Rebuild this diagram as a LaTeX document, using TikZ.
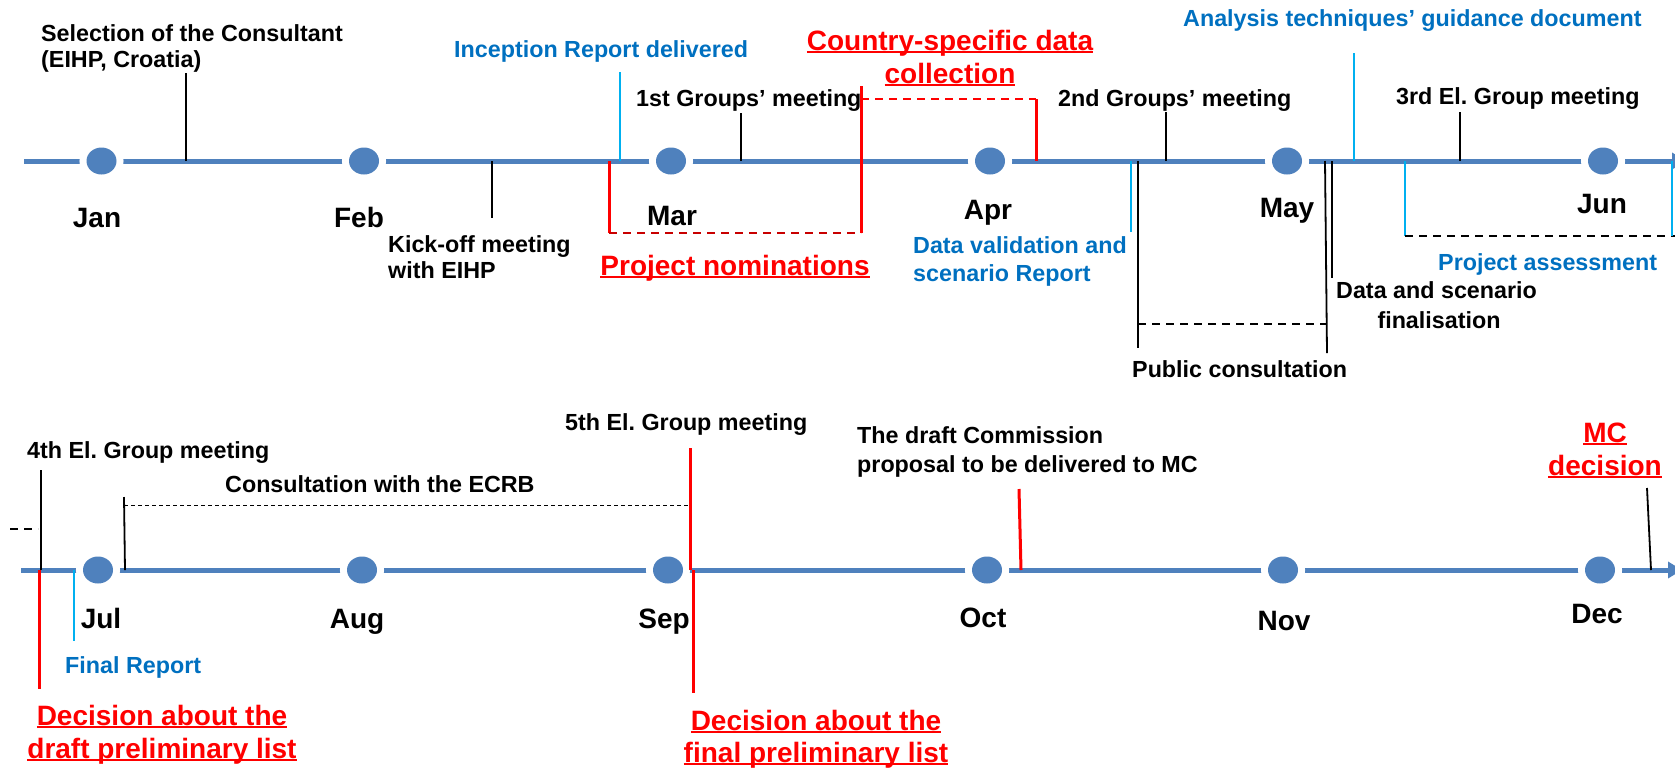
\documentclass[tikz,border=0pt]{standalone}
\usepackage{fontspec}
\setmainfont{Liberation Sans}
\usetikzlibrary{arrows.meta,shapes.geometric}
\definecolor{tlblue}{RGB}{79,129,189}
\definecolor{lblue}{RGB}{0,176,240}
\definecolor{tblue}{RGB}{0,112,192}
\definecolor{dred}{RGB}{200,0,0}
\newcommand\myul[1]{\leavevmode\setbox0\hbox{#1}\rlap{\rule[-3pt]{\wd0}{2pt}}\box0}
\frenchspacing
\begin{document}
\begin{tikzpicture}[x=1pt,y=-1pt,
  tl/.style={draw=tlblue,line width=5pt},
  dot/.style={ellipse,minimum width=30pt,minimum height=27pt,inner sep=0pt,fill=tlblue,preaction={draw=white,line width=14pt}},
  mon/.style={font=\fontsize{28}{32}\selectfont\bfseries,anchor=base,inner sep=0pt},
  ann/.style={font=\fontsize{23.3}{28}\selectfont\bfseries\frenchspacing,anchor=base west,inner sep=0pt},
  bann/.style={ann,text=tblue},
  rann/.style={font=\fontsize{28}{32}\selectfont\bfseries,anchor=base,inner sep=0pt,text=red},
  tick/.style={draw=black,line width=1.8pt},
  rtick/.style={draw=red,line width=3pt},
  btick/.style={draw=lblue,line width=2.5pt},
  dsh/.style={dash pattern=on 8pt off 6pt,line width=2pt},
  thindsh/.style={draw=black,dash pattern=on 4pt off 3pt,line width=1pt}]
\useasboundingbox (0,0) rectangle (1675,769);

% ---------------- timelines ----------------
\draw[tl,-{Triangle[length=14pt,width=16pt]}] (24,161) coordinate (topS) -- (1686,161) coordinate (topE);
\draw[tl,-{Triangle[length=14pt,width=16pt]}] (21,570) coordinate (botS) -- (1682,570) coordinate (botE);

% month dots
\node[dot] (jan) at (101.5,161) {};
\node[dot] (feb) at (364,161) {};
\node[dot] (mar) at (671,161) {};
\node[dot] (apr) at (990,161) {};
\node[dot] (may) at (1287,161) {};
\node[dot] (jun) at (1603,161) {};
\node[dot] (jul) at (98,570) {};
\node[dot] (aug) at (362,570) {};
\node[dot] (sep) at (668,570) {};
\node[dot] (oct) at (987,570) {};
\node[dot] (nov) at (1283,570) {};
\node[dot] (dec) at (1600,570) {};

% month labels
\node[mon] (janL) at (97,227) {Jan};
\node[mon] (febL) at (359,227) {Feb};
\node[mon] (marL) at (672,225) {Mar};
\node[mon] (aprL) at (988,219) {Apr};
\node[mon] (mayL) at (1287,217) {May};
\node[mon] (junL) at (1602,213) {Jun};
\node[mon] (julL) at (101,628) {Jul};
\node[mon] (augL) at (357,628) {Aug};
\node[mon] (sepL) at (664,628) {Sep};
\node[mon] (octL) at (983,627) {Oct};
\node[mon] (novL) at (1284,630) {Nov};
\node[mon] (decL) at (1597,623) {Dec};

% ---------------- top row ----------------
\node[ann] (sel1) at (41,41) {Selection of the Consultant};
\node[ann] (sel2) at (41,67) {(EIHP, Croatia)};
\draw[tick] (186,161) coordinate (selB) -- (186,73) coordinate (selT);

\node[ann] (kick1) at (388,252) {Kick-off meeting};
\node[ann] (kick2) at (388,278) {with EIHP};
\draw[tick] (492,161) coordinate (kickB) -- (492,218) coordinate (kickT);

\node[bann] (inc) at (454,57) {Inception Report delivered};
\draw[btick] (620,161) coordinate (incB) -- (620,72) coordinate (incT);

\node[ann] (g1) at (636,106) {1st Groups’ meeting};
\draw[tick] (741,161) coordinate (g1B) -- (741,113) coordinate (g1T);

% project nominations
\draw[rtick] (609,161) coordinate (pnA) -- (609,233) coordinate (pnB);
\draw[dsh,draw=dred] (pnB) -- (861,233) coordinate (pnC);
\draw[rtick] (pnC) -- (861,86) coordinate (pnD);
\node[rann] (pn) at (735,275) {\myul{Project nominations}};

% country-specific data collection
\draw[dsh,draw=red] (861,99) coordinate (csA) -- (1036,99) coordinate (csB);
\draw[rtick] (csB) -- (1036,161) coordinate (csC);
\node[rann] (cs1) at (950,50) {\myul{Country-specific data}};
\node[rann] (cs2) at (950,83) {\myul{collection}};

\node[ann] (g2) at (1058,106) {2nd Groups’ meeting};
\draw[tick] (1166,161) coordinate (g2B) -- (1166,112) coordinate (g2T);

\node[bann] (dv1) at (913,253) {Data validation and};
\node[bann] (dv2) at (913,281) {scenario Report};
\draw[btick] (1131,161) coordinate (dvB) -- (1131,232) coordinate (dvT);

% public consultation
\draw[tick] (1138,161) coordinate (pcA) -- (1138,348) coordinate (pcB);
\draw[tick] (1325,161) coordinate (pcC) -- (1327,353) coordinate (pcD);
\draw[dsh,draw=black] (1138,324) coordinate (pcE) -- (1326,324) coordinate (pcF);
\node[ann] (pc) at (1132,377) {Public consultation};

% data and scenario finalisation
\draw[tick] (1332,161) coordinate (dsB) -- (1332,278) coordinate (dsT);
\node[ann] (ds1) at (1336,298) {Data and scenario};
\node[ann,anchor=base] (ds2) at (1439,328) {finalisation};

% analysis techniques
\node[bann] (at) at (1183,26) {Analysis techniques’ guidance document};
\draw[btick] (1354,161) coordinate (atB) -- (1354,53) coordinate (atT);

\node[ann] (g3) at (1396,104) {3rd El. Group meeting};
\draw[tick] (1460,161) coordinate (g3B) -- (1460,112) coordinate (g3T);

% project assessment
\draw[btick] (1405,161) coordinate (paA) -- (1405,236) coordinate (paB);
\draw[dsh,draw=black] (paB) -- (1675,236) coordinate (paC);
\draw[btick] (1672,161) coordinate (paD) -- (1672,236) coordinate (paE);
\node[bann] (pa) at (1438,270) {Project assessment};

% ---------------- bottom row ----------------
\draw[dsh,draw=black] (10,529) coordinate (cA) -- (38,529) coordinate (cB);

\node[ann] (g4) at (27,458) {4th El. Group meeting};
\draw[tick] (41,570) coordinate (g4B) -- (41,470) coordinate (g4T);
\draw[rtick] (39,570) coordinate (dd1) -- (39,689) coordinate (dd2);
\node[rann] (dda) at (162,725) {\myul{Decision about the}};
\node[rann] (ddb) at (162,758) {\myul{draft preliminary list}};

\draw[btick] (74,570) coordinate (frB) -- (74,641) coordinate (frT);
\node[bann] (fr) at (65,673) {Final Report};

\draw[tick] (125,570) coordinate (ecB) -- (124,497) coordinate (ecT);
\draw[thindsh] (124,505) coordinate (ecA) -- (690,505) coordinate (ecE);
\node[ann] (ec) at (225,492) {Consultation with the ECRB};

\node[ann] (g5) at (565,430) {5th El. Group meeting};
\draw[rtick] (690,570) coordinate (g5B) -- (690,448) coordinate (g5T);
\draw[rtick] (693,570) coordinate (df1) -- (693,693) coordinate (df2);
\node[rann] (dfa) at (816,730) {\myul{Decision about the}};
\node[rann] (dfb) at (816,762) {\myul{final preliminary list}};

\node[ann] (dc1) at (857,443) {The draft Commission};
\node[ann] (dc2) at (857,472) {proposal to be delivered to MC};
\draw[rtick] (1021,570) coordinate (dcB) -- (1019,489) coordinate (dcT);

\node[rann] (mc1) at (1605,442) {\myul{MC}};
\node[rann] (mc2) at (1605,475) {\myul{decision}};
\draw[tick] (1651,570) coordinate (mcB) -- (1647,488) coordinate (mcT);
\end{tikzpicture}
\end{document}
